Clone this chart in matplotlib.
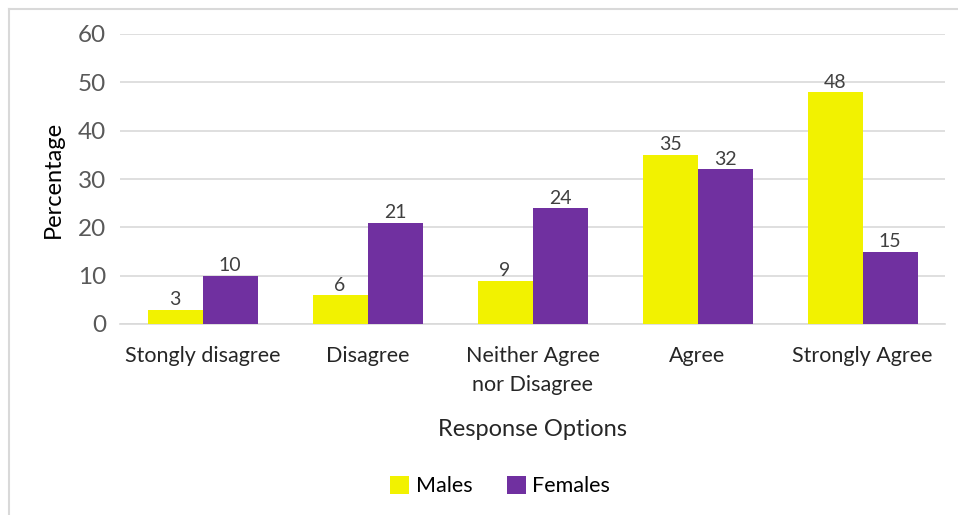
import matplotlib.pyplot as plt
import numpy as np
from matplotlib.lines import Line2D

plt.rcParams["font.family"] = ['Lato', 'DejaVu Sans']

categories = ['Stongly disagree', 'Disagree', 'Neither Agree\nnor Disagree', 'Agree', 'Strongly Agree']
males = [3, 6, 9, 35, 48]
females = [10, 21, 24, 32, 15]
yticks = [0, 10, 20, 30, 40, 50, 60]

W, H = 958, 515
fig = plt.figure(figsize=(W / 100, H / 100), dpi=100)
ax = fig.add_axes([120 / W, 1 - 324 / H, 825 / W, 290 / H])

x = np.arange(len(categories))
bw = 1 / 3
b1 = ax.bar(x - bw / 2, males, bw, color='#F2F200', label='Males', zorder=3)
b2 = ax.bar(x + bw / 2, females, bw, color='#7030A0', label='Females', zorder=3)
for bars in (b1, b2):
    ax.bar_label(bars, padding=1, fontsize=14, color='#404040')

ax.set_xlim(-0.5, len(categories) - 0.5)
ax.set_ylim(0, 60)
ax.set_yticks(yticks)
ax.set_xticks(x)
ax.set_xticklabels(categories, fontsize=15.5, color='#262626', linespacing=1.55)
ax.tick_params(axis='y', labelsize=17.5, colors='#595959', length=0, pad=10)
ax.tick_params(axis='x', length=0, pad=16)
ax.grid(axis='y', color='#D9D9D9', linewidth=1.2, zorder=0)
for s in ['top', 'right', 'left']:
    ax.spines[s].set_visible(False)
ax.spines['bottom'].set_color('#D9D9D9')
ax.spines['bottom'].set_linewidth(1.2)

ax.set_ylabel('Percentage', fontsize=17, color='black', labelpad=10)
ax.set_xlabel('Response Options', fontsize=17, color='#262626', labelpad=17)

fig.legend(handles=[b1, b2], loc='center', bbox_to_anchor=(500 / W, 1 - 486 / H),
           ncol=2, frameon=False, fontsize=15.5, handlelength=0.9, handleheight=0.9,
           handletextpad=0.3, columnspacing=1.6)

# outer chart frame (top and left edges)
fig.add_artist(Line2D([8.5 / W, 8.5 / W], [0, 1 - 8.5 / H], color='#D9D9D9', lw=1.5))
fig.add_artist(Line2D([8.5 / W, 1], [1 - 8.5 / H, 1 - 8.5 / H], color='#D9D9D9', lw=1.5))

fig.savefig('out.png', dpi=100)
